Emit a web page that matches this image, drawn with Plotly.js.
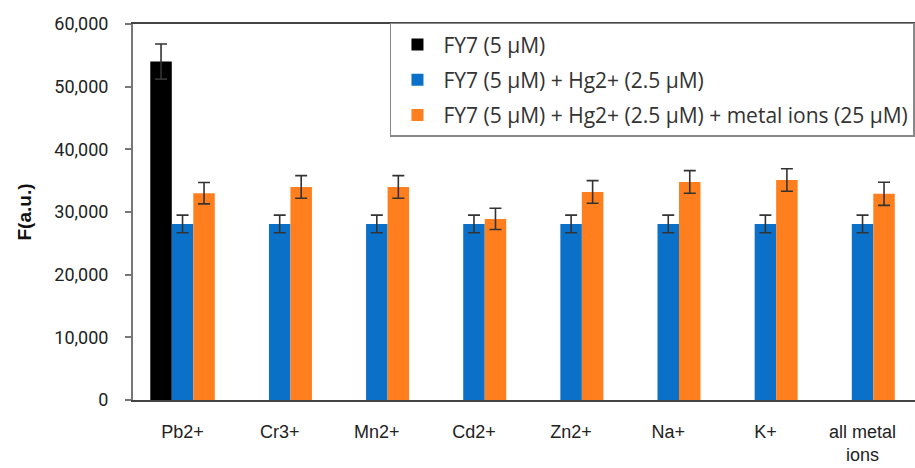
<!DOCTYPE html>
<html>
<head>
<meta charset="utf-8">
<script src="https://cdn.plot.ly/plotly-3.0.1.min.js"></script>
<style>
  html, body { margin: 0; padding: 0; background: #fff; }
  #chart { width: 915px; height: 468px; }
</style>
</head>
<body>
<div id="chart"></div>
<script>
// ---- data ----
const categories = ["Pb2+", "Cr3+", "Mn2+", "Cd2+", "Zn2+", "Na+", "K+", "all metal<br>ions"];
const seriesNames = [
  "FY7 (5 µM)",
  "FY7 (5 µM) + Hg2+ (2.5 µM)",
  "FY7 (5 µM) + Hg2+ (2.5 µM) + metal ions (25 µM)"
];
const fy7Values   = [54000, null, null, null, null, null, null, null];
const fy7Errors   = [2800, null, null, null, null, null, null, null];
const hgValues    = [28100, 28100, 28100, 28100, 28100, 28100, 28100, 28100];
const hgErrors    = [1400, 1400, 1400, 1400, 1400, 1400, 1400, 1400];
const metalValues = [33000, 34000, 34000, 28900, 33200, 34800, 35100, 32900];
const metalErrors = [1700, 1800, 1800, 1700, 1800, 1800, 1800, 1850];
const yTicks = [0, 10000, 20000, 30000, 40000, 50000, 60000];
const yTickLabels = ["0", "10,000", "20,000", "30,000", "40,000", "50,000", "60,000"];

const colors = ["#000000", "#0A70C8", "#FF7F1F"];

function errBar(arr) {
  return { type: "data", array: arr, visible: true, color: "#333333", thickness: 1.6, width: 6 };
}

const idx = categories.map((_, i) => i);

const traces = [
  { type: "bar", name: seriesNames[0], x: idx, y: fy7Values, error_y: errBar(fy7Errors),
    marker: { color: colors[0] }, legendgroup: "a" },
  { type: "bar", name: seriesNames[1], x: idx, y: hgValues, error_y: errBar(hgErrors),
    marker: { color: colors[1] }, legendgroup: "b" },
  { type: "bar", name: seriesNames[2], x: idx, y: metalValues, error_y: errBar(metalErrors),
    marker: { color: colors[2] }, legendgroup: "c" }
];

const layout = {
  width: 915, height: 468,
  margin: { l: 133, r: 0, t: 24, b: 68 },
  paper_bgcolor: "#ffffff",
  plot_bgcolor: "#ffffff",
  barmode: "group",
  bargap: 0.336,
  bargroupgap: 0,
  showlegend: true,
  font: { family: "Roboto, 'Liberation Sans', sans-serif", color: "#222222" },
  xaxis: {
    range: [-0.51, 7.54],
    tickmode: "array",
    tickvals: idx,
    ticktext: categories,
    showline: true, linecolor: "#444444", linewidth: 2, mirror: true,
    ticks: "", showgrid: false, zeroline: false,
    tickfont: { family: "'Liberation Sans Narrow', 'Liberation Sans', sans-serif", size: 18, color: "#222222" },
    ticklabelstandoff: 14
  },
  yaxis: {
    range: [0, 60000],
    tickmode: "array",
    tickvals: yTicks,
    ticktext: yTickLabels,
    showline: true, linecolor: "#777777", linewidth: 2,
    ticks: "outside", ticklen: 6, tickwidth: 2, tickcolor: "#777777",
    showgrid: false, zeroline: false,
    ticklabelstandoff: 13,
    tickfont: { family: "Roboto, sans-serif", size: 18, color: "#222222" },
    title: { text: "<b>F(a.u.)</b>", font: { family: "'Liberation Sans', Arial, sans-serif", size: 19, color: "#111111" }, standoff: 18 }
  },
  legend: {
    x: 0.3286, xanchor: "left",
    y: 1.003, yanchor: "top",
    bgcolor: "#ffffff",
    bordercolor: "#888888", borderwidth: 1.5,
    font: { family: "'Open Sans', sans-serif", size: 21, color: "#333333" },
    tracegroupgap: 5,
    itemwidth: 42
  }
};

Plotly.newPlot("chart", traces, layout, { displayModeBar: false, staticPlot: true });
</script>
</body>
</html>
